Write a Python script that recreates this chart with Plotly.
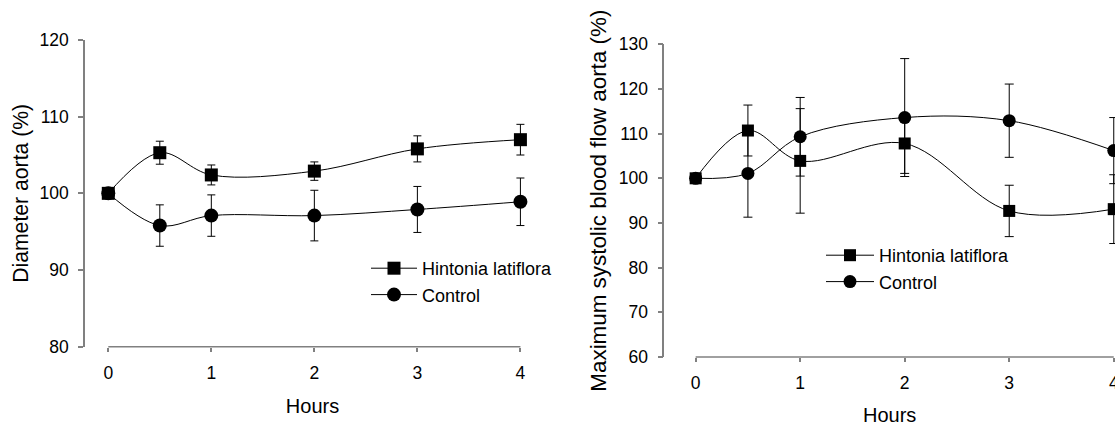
import plotly.graph_objects as go

# ---- data ----
hours = [0, 0.5, 1, 2, 3, 4]

diam_hintonia = [100, 105.3, 102.4, 102.9, 105.8, 107.0]
diam_hintonia_err = [0, 1.5, 1.3, 1.2, 1.7, 2.0]
diam_control = [100, 95.8, 97.1, 97.1, 97.9, 98.9]
diam_control_err = [0, 2.7, 2.7, 3.3, 3.0, 3.1]

flow_hintonia = [100, 110.7, 103.9, 107.8, 92.7, 93.1]
flow_hintonia_err = [0, 5.7, 11.7, 6.7, 5.75, 7.7]
flow_control = [100, 101.1, 109.3, 113.6, 112.9, 106.2]
flow_control_err = [0, 9.8, 8.8, 13.2, 8.2, 7.4]

x_ticks = [0, 1, 2, 3, 4]
name_h = "Hintonia latiflora"
name_c = "Control"

FONT = "Liberation Sans, Arial, sans-serif"
W, H = 1115, 426
AXC = "#808080"

def px_x(p):
    return p / W

def px_y(p):
    return 1 - p / H

fig = go.Figure()

def add_series(x, y, err, name, symbol, size, xa, ya, leg, cap):
    fig.add_trace(go.Scatter(
        x=x, y=y, name=name, mode="lines+markers",
        line=dict(color="black", width=1, shape="spline", smoothing=1),
        marker=dict(symbol=symbol, size=size, color="black"),
        error_y=dict(type="data", array=err, color="black", thickness=1, width=cap),
        xaxis=xa, yaxis=ya, legend=leg, cliponaxis=False,
    ))

add_series(hours, diam_hintonia, diam_hintonia_err, name_h, "square", 13, "x", "y", "legend", 4)
add_series(hours, diam_control, diam_control_err, name_c, "circle", 14, "x", "y", "legend", 4)
add_series(hours, flow_hintonia, flow_hintonia_err, name_h, "square", 12, "x2", "y2", "legend2", 4.5)
add_series(hours, flow_control, flow_control_err, name_c, "circle", 13, "x2", "y2", "legend2", 4.5)

tickfont = dict(family=FONT, size=17.5, color="black")

xcommon = dict(showline=False, showgrid=False, zeroline=False, ticks="outside",
               ticklen=4, tickwidth=1.5, tickcolor=AXC, tickvals=x_ticks,
               tickfont=tickfont, automargin=False, ticklabelstandoff=6,
               ticklabeloverflow="allow")
ycommon = dict(showline=True, linecolor=AXC, linewidth=1.5, showgrid=False,
               zeroline=False, ticks="outside", ticklen=5, tickwidth=1.5,
               tickcolor=AXC, dtick=10, tickfont=tickfont, automargin=False,
               ticklabelstandoff=6)

fig.update_layout(
    width=W, height=H,
    margin=dict(l=0, r=0, t=0, b=0),
    template="none",
    paper_bgcolor="white", plot_bgcolor="white",
    font=dict(family=FONT, color="black"),
    xaxis=dict(domain=[px_x(85), px_x(540)], range=[-0.226, 4.19],
               title=dict(text="Hours", font=dict(family=FONT, size=20), standoff=17),
               anchor="y", **xcommon),
    yaxis=dict(domain=[px_y(346.7), px_y(40)], range=[80, 120],
               title=dict(text="Diameter aorta (%)", font=dict(family=FONT, size=21.2), standoff=5),
               anchor="x", **ycommon),
    xaxis2=dict(domain=[px_x(664.3), 1.0], range=[-0.30, 4.012],
                title=dict(text="Hours", font=dict(family=FONT, size=20), standoff=24),
                anchor="y2", **xcommon),
    yaxis2=dict(domain=[px_y(357), px_y(44.3)], range=[60, 130],
                title=dict(text="Maximum systolic blood flow aorta (%)",
                           font=dict(family=FONT, size=22.4), standoff=6),
                anchor="x2", **ycommon),
    legend=dict(x=px_x(366), y=px_y(250), xanchor="left", yanchor="top",
                font=dict(family=FONT, size=18, color="black"),
                bgcolor="rgba(0,0,0,0)", itemwidth=46, tracegroupgap=0),
    legend2=dict(x=px_x(821), y=px_y(237), xanchor="left", yanchor="top",
                 font=dict(family=FONT, size=18, color="black"),
                 bgcolor="rgba(0,0,0,0)", itemwidth=48, tracegroupgap=0),
    shapes=[
        dict(type="line", xref="x", yref="y domain", x0=0, x1=4, y0=0, y1=0,
             line=dict(color=AXC, width=1.5)),
        dict(type="line", xref="x2", yref="y2 domain", x0=0, x1=4, y0=0, y1=0,
             line=dict(color=AXC, width=1.5)),
    ],
)

fig.write_html(
    "out.html",
    config={"displayModeBar": False},
    post_script="document.body.style.margin='0px';document.body.style.overflow='hidden';",
)
